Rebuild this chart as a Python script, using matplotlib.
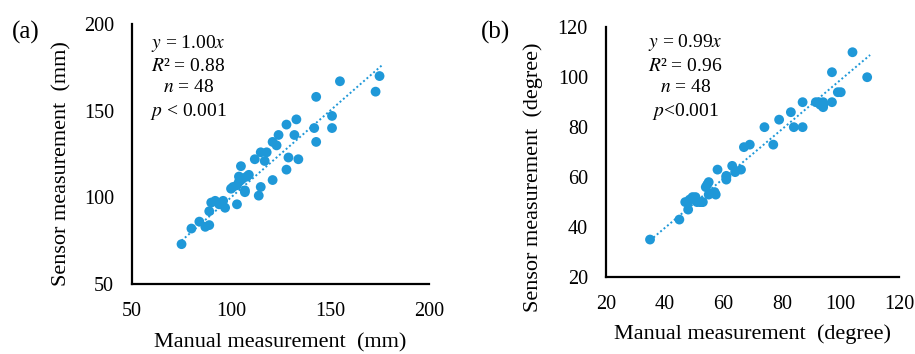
import matplotlib
matplotlib.use('Agg')
import matplotlib.pyplot as plt
import numpy as np

# panel (a): length, mm
a_manual = [75, 80, 84, 87, 89, 89, 90, 92, 96, 97, 94, 100, 103, 103, 104, 105,
            104, 106, 108, 107, 107, 112, 115, 118, 117, 115, 114, 121, 121, 123,
            124, 128, 128, 129, 132, 133, 134, 142, 143, 143, 151, 151, 155, 173,
            175, 101, 105, 109]
a_sensor = [73, 82, 86, 83, 84, 92, 97, 98, 98, 94, 96, 105, 96, 107, 109, 118,
            112, 111, 112, 103, 104, 122, 126, 126, 121, 106, 101, 110, 132, 130,
            136, 142, 116, 123, 136, 145, 122, 140, 158, 132, 147, 140, 167, 161,
            170, 106, 110, 113]
a_slope = 1.00
a_stats = ['$y$ = 1.00$x$', '$R$² = 0.88', '$n$ = 48', '$p$ < 0.001']

# panel (b): angle, degree
b_manual = [35, 45, 48, 47, 48, 49.5, 50.5, 51, 52, 53, 54, 55, 55, 57, 57.4, 58,
            61, 61, 63, 64, 66, 67, 69, 74, 77, 79, 83, 84, 87, 87, 91.5, 92.5, 94,
            94, 97, 97, 99, 100, 104, 109, 48.5, 50, 52.5, 54.5, 55.5, 61, 93, 94]
b_sensor = [35, 43, 47, 50, 50, 52, 52, 50, 50, 50, 56, 58, 53, 54, 53, 63,
            60, 59, 64.5, 62, 63, 72, 73, 80, 73, 83, 86, 80, 80, 90, 90, 90, 88,
            90, 90, 102, 94, 94, 110, 100, 51, 51.5, 50, 57, 53.5, 60.5, 89, 89]
b_slope = 0.99
b_stats = ['$y$ = 0.99$x$', '$R$² = 0.96', '$n$ = 48', '$p$<0.001']

plt.rcParams['font.family'] = ['Liberation Serif', 'DejaVu Serif']
plt.rcParams['mathtext.fontset'] = 'stix'

dot_color = '#1f98d8'

fig = plt.figure(figsize=(9.15, 3.54), dpi=100)
ax_a = fig.add_axes([0.1443, 0.1977, 0.3246, 0.7343])
ax_b = fig.add_axes([0.6623, 0.2175, 0.3207, 0.7055])


def draw_panel(ax, xs, ys, slope, stats, lim, ticks, unit, ylab_pos, xlab_y, stat_pos):
    ax.scatter(xs, ys, s=50, color=dot_color, edgecolors='none', zorder=3)
    # 线性趋势线（过原点）
    xx = np.array([min(xs), max(xs) + 1])
    ax.plot(xx, slope * xx, linestyle=(0, (1, 1.3)), color=dot_color, linewidth=1.4, zorder=2)

    ax.set_xlim(lim)
    ax.set_ylim(lim)
    ax.set_xticks(ticks)
    ax.set_yticks(ticks)
    for side in ['top', 'right']:
        ax.spines[side].set_visible(False)
    for side in ['left', 'bottom']:
        ax.spines[side].set_linewidth(1.6)
        ax.spines[side].set_color('black')
    ax.tick_params(axis='both', length=0, labelsize=14.5)
    ax.tick_params(axis='x', pad=13)
    ax.tick_params(axis='y', pad=13)

    ax.set_xlabel(f'Manual measurement  ({unit})', fontsize=16, va='top')
    ax.set_ylabel(f'Sensor measurement  ({unit})', fontsize=16)
    ax.xaxis.set_label_coords(0.5, xlab_y)
    ax.yaxis.set_label_coords(ylab_pos[0], ylab_pos[1])

    ax.text(stat_pos[0], stat_pos[1], '\n'.join(stats), transform=ax.transAxes, ha='center',
            va='center', fontsize=14, linespacing=1.33)


draw_panel(ax_a, a_manual, a_sensor, a_slope, a_stats, (50, 200), [50, 100, 150, 200],
           'mm', (-0.205, 0.465), -0.19, (0.19, 0.795))
draw_panel(ax_b, b_manual, b_sensor, b_slope, b_stats, (20, 120), [20, 40, 60, 80, 100, 120],
           'degree', (-0.215, 0.40), -0.19, (0.27, 0.80))

fig.text(26 / 915, 1 - 32 / 354, '(a)', fontsize=18, ha='center', va='center')
fig.text(496 / 915, 1 - 32 / 354, '(b)', fontsize=18, ha='center', va='center')

fig.savefig('out.png', dpi=100)
